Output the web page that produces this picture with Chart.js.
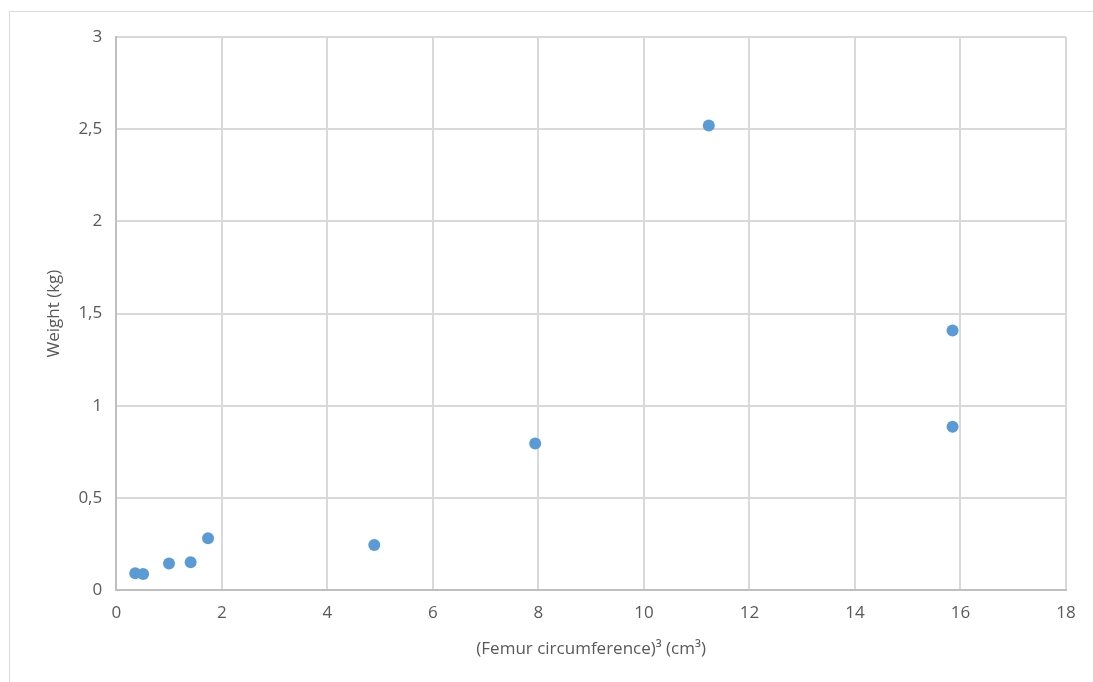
<!DOCTYPE html>
<html>
<head>
<meta charset="utf-8">
<script src="https://cdn.jsdelivr.net/npm/chart.js@4"></script>
<style>
  html, body { margin: 0; padding: 0; background: #fff; }
  body { width: 1093px; height: 682px; overflow: hidden; position: relative; }
  #frame {
    position: absolute; left: 9px; top: 11px; width: 1200px; height: 800px;
    border: 1px solid #d9d9d9; box-sizing: border-box;
  }
  #wrap { position: absolute; left: 0; top: 0; width: 1093px; height: 682px; }
</style>
</head>
<body>
<div id="frame"></div>
<div id="wrap"><canvas id="chart"></canvas></div>
<script>
// femur circumference cubed (cm³) vs weight (kg)
const femurCubed = [0.36, 0.51, 1.0, 1.41, 1.74, 4.89, 7.94, 11.23, 15.85, 15.85];
const weightKg = [0.092, 0.088, 0.145, 0.151, 0.282, 0.245, 0.796, 2.52, 1.408, 0.887];

const xTicks = [0, 2, 4, 6, 8, 10, 12, 14, 16, 18];
const yTicks = [0, 0.5, 1, 1.5, 2, 2.5, 3];

const points = femurCubed.map((x, i) => ({ x: x, y: weightKg[i] }));

const ctx1 = document.getElementById("chart");
const tickFont = { size: 17, family: "Open Sans" };

new Chart(ctx1, {
    type: "scatter",
    data: {
        datasets: [
            {
                label: "Weight",
                data: points,
                pointRadius: 6,
                pointHoverRadius: 6,
                pointBackgroundColor: "#5b9bd5",
                pointBorderColor: "#5b9bd5",
                pointBorderWidth: 0,
            },
        ],
    },
    options: {
        responsive: true,
        maintainAspectRatio: false,
        animation: false,
        layout: {
            padding: { left: 44, top: 37, right: 27, bottom: 23 },
        },
        plugins: {
            legend: { display: false },
            tooltip: { enabled: false },
        },
        scales: {
            x: {
                type: "linear",
                min: 0,
                max: 18,
                afterBuildTicks: (axis) => {
                    axis.ticks = xTicks.map((v) => ({ value: v }));
                },
                grid: {
                    color: "#d9d9d9",
                    lineWidth: 2,
                    drawTicks: false,
                },
                border: { color: "#bfbfbf", width: 2 },
                ticks: {
                    color: "#595959",
                    padding: 13,
                    font: tickFont,
                },
                title: {
                    display: true,
                    text: "(Femur circumference)³ (cm³)",
                    color: "#595959",
                    font: tickFont,
                    padding: { top: 2, bottom: 0 },
                },
            },
            y: {
                type: "linear",
                min: 0,
                max: 3,
                afterBuildTicks: (axis) => {
                    axis.ticks = yTicks.map((v) => ({ value: v }));
                },
                grid: {
                    color: "#d9d9d9",
                    lineWidth: 2,
                    drawTicks: false,
                },
                border: { color: "#bfbfbf", width: 2 },
                ticks: {
                    color: "#595959",
                    padding: 14,
                    font: tickFont,
                    callback: (v) => String(v).replace(".", ","),
                },
                title: {
                    display: true,
                    text: "Weight (kg)",
                    color: "#595959",
                    font: tickFont,
                    padding: { top: 0, bottom: 0 },
                },
            },
        },
    },
});
</script>
</body>
</html>
